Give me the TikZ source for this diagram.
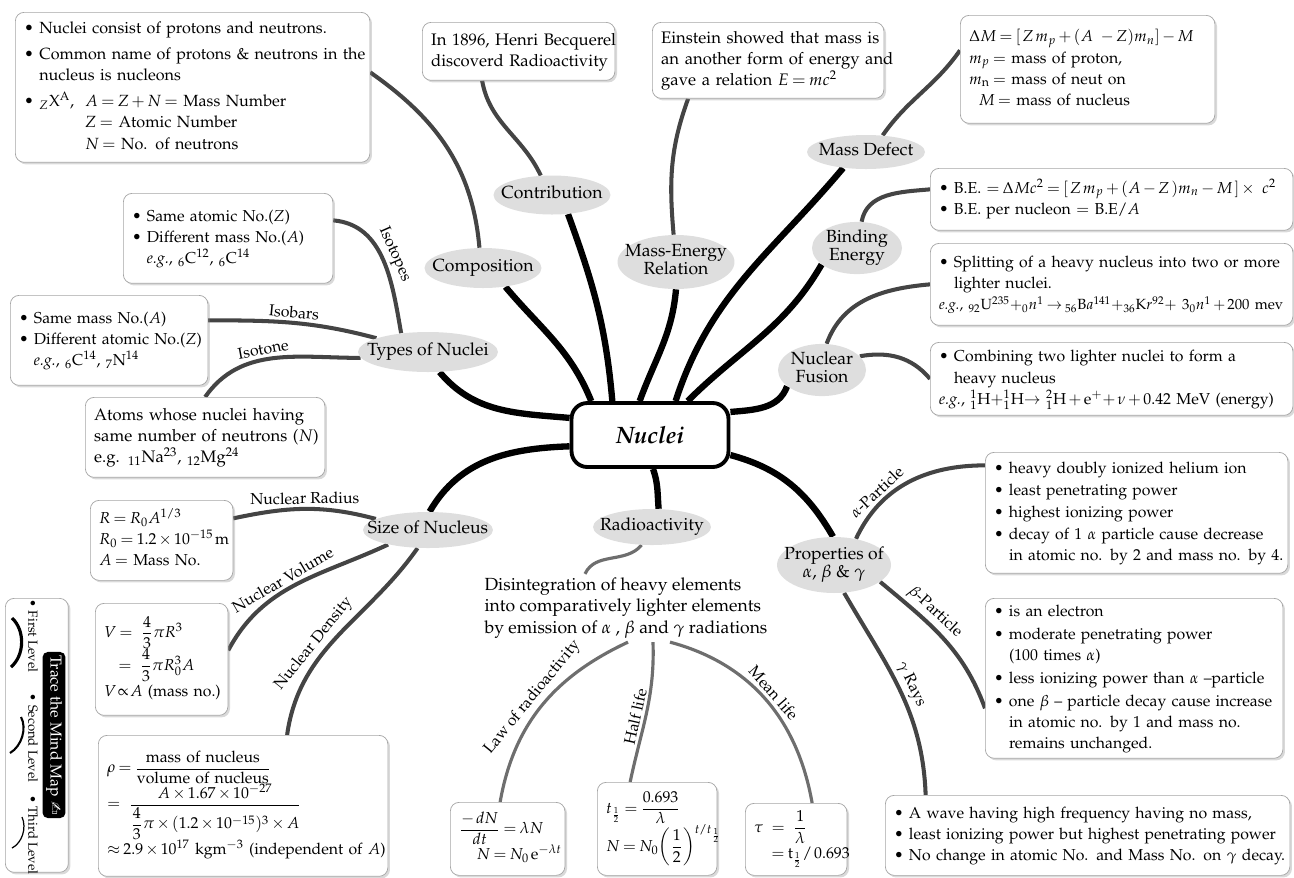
\documentclass[tikz,border=0pt]{standalone}
\usepackage[T1]{fontenc}
\usepackage{mathpazo}
\usepackage{amsmath}
\usepackage{pifont}
\usetikzlibrary{shapes.geometric,shadows,backgrounds}

\definecolor{TopicGray}{RGB}{222,222,222}
\definecolor{TwigGray}{RGB}{68,68,68}
\definecolor{SprigGray}{RGB}{110,110,110}
\definecolor{FrameGray}{RGB}{165,165,165}

\newcommand{\tpc}[1]{\makebox[0pt]{\begin{tabular}{@{}c@{}}#1\end{tabular}}}
\newcommand{\rows}[1]{\begin{tabular}{@{}l@{}}#1\end{tabular}}
\newcommand{\bul}{\textbullet\ }
\newcommand{\ind}{\phantom{\textbullet\ }}
\thinmuskip=2mu
\medmuskip=2.5mu plus 1mu
\thickmuskip=3.5mu plus 2mu

\begin{document}
\begin{tikzpicture}[x=0.02cm, y=-0.02cm, font=\fontsize{9}{12}\selectfont,
  topic/.style={ellipse, fill=TopicGray, inner sep=0pt, font=\fontsize{10}{10.5}\selectfont},
  leaf/.style={draw=FrameGray, fill=white, rounded corners=5pt, anchor=north west, align=left,
    inner xsep=5pt, inner ysep=2pt, drop shadow={shadow xshift=1.2pt, shadow yshift=-1.2pt, opacity=0.3}},
  trunk/.style={line width=3.6pt},
  twig/.style={draw=TwigGray, line width=2.3pt},
  sprig/.style={draw=SprigGray, line width=1.8pt},
  tag/.style={sloped, above, inner sep=1.5pt}]
\useasboundingbox (0,0) rectangle (1294,877);

% centre
\node[draw, line width=2.2pt, rounded corners=9pt, fill=white, minimum width=3.14cm, minimum height=1.28cm] (nuc) at (650,435) {\fontsize{13.5}{16}\selectfont\bfseries\itshape Nuclei};

% first level
\node[topic, minimum width=2.34cm, minimum height=0.78cm] (contr) at (552,195) {\tpc{Contribution}};
\node[topic, minimum width=2.34cm, minimum height=0.8cm] (comp) at (483,268) {\tpc{Composition}};
\node[topic, minimum width=2.34cm, minimum height=1.08cm] (mer) at (676,262) {\tpc{Mass-Energy\\Relation}};
\node[topic, minimum width=2.36cm, minimum height=0.68cm] (mdef) at (866,152) {\tpc{Mass Defect}};
\node[topic, minimum width=1.8cm, minimum height=1.04cm] (bind) at (857,248) {\tpc{Binding\\Energy}};
\node[topic, minimum width=1.76cm, minimum height=1.0cm] (fus) at (822,370) {\tpc{Nuclear\\Fusion}};
\node[topic, minimum width=2.8cm, minimum height=0.8cm] (types) at (428,352) {\tpc{Types of Nuclei}};
\node[topic, minimum width=2.6cm, minimum height=0.72cm] (size) at (428,530) {\tpc{Size of Nucleus}};
\node[topic, minimum width=2.36cm, minimum height=0.72cm] (radio) at (652,527) {\tpc{Radioactivity}};
\node[topic, minimum width=2.28cm, minimum height=1.12cm] (prop) at (834,565) {\tpc{Properties of\\$\alpha$, $\beta$ \& $\gamma$}};

% leaves
\node[leaf, text width=6.74cm, minimum height=3cm, font=\fontsize{9.2}{12.4}\selectfont] (bcomp) at (15,12) {\rows{%
\bul Nuclei consist of protons and neutrons.\\[2pt]
\bul Common name of protons \& neutrons in the\\
\ind nucleus is nucleons\\[2pt]
\bul ${}_{Z}\mathrm{X}^{\mathrm{A}}$,\ \ $A = Z + N =$ Mass Number\\
\phantom{\bul ${}_{Z}\mathrm{X}^{\mathrm{A}}$,\ \ }$Z =$ Atomic Number\\
\phantom{\bul ${}_{Z}\mathrm{X}^{\mathrm{A}}$,\ \ }$N =$ No. of neutrons}};
\node[leaf, text width=3.5cm, minimum height=1.16cm, font=\fontsize{9.5}{12}\selectfont] (bcontr) at (422,22) {\rows{In 1896, Henri Becquerel\\discoverd Radioactivity}};
\node[leaf, text width=4.28cm, minimum height=1.52cm, font=\fontsize{9.5}{12}\selectfont] (bmer) at (652,22) {\rows{Einstein showed that mass is\\an another form of energy and\\gave a relation $E = mc^2$}};
\node[leaf, text width=4.74cm, minimum height=2.16cm] (bdef) at (960,15) {\rows{%
$\Delta M = [\,Z\,m_p + (A\ -Z)m_n] - M$\\
$m_p =$ mass of proton,\\
$m_{\mathrm{n}} =$ mass of neut on\\
\hspace*{0.6em}$M =$ mass of nucleus}};
\node[leaf, text width=6.9cm, minimum height=1.24cm] (bbind) at (930,168) {\rows{%
\bul B.E. $= \Delta Mc^2 = [\,Z\,m_p + (A - Z\,)m_n - M\,] \times\ c^2$\\
\bul B.E. per nucleon $=$ B.E/$A$}};
\node[leaf, text width=6.9cm, minimum height=1.64cm] (bfis) at (930,243) {\rows{%
\bul Splitting of a heavy nucleus into two or more\\
\ind lighter nuclei.\\
\fontsize{8.4}{11}\selectfont\textit{e.g.}, ${}_{92}\mathrm{U}^{235}{+}{}_0n^1 \to {}_{56}\mathrm{B}a^{141}{+}{}_{36}\mathrm{K}r^{92}{+}\ 3{}_0n^1 + 200$ mev}};
\node[leaf, text width=6.9cm, minimum height=1.46cm] (bfus) at (930,342) {\rows{%
\bul Combining two lighter nuclei to form a\\
\ind heavy nucleus\\
\textit{e.g.}, ${}^1_1\mathrm{H}{+}{}^1_1\mathrm{H}{\to}\ {}^2_1\mathrm{H} + \mathrm{e}^+{+}\,\nu + 0.42$ MeV (energy)}};
\node[leaf, text width=5.7cm, minimum height=2.42cm] (balpha) at (985,452) {\rows{%
\bul heavy doubly ionized helium ion\\[1pt]
\bul least penetrating power\\
\bul highest ionizing power\\[1pt]
\bul decay of 1 $\alpha$ particle cause decrease\\
\ind in atomic no. by 2 and mass no. by 4.}};
\node[leaf, text width=5.6cm, minimum height=2.84cm] (bbeta) at (985,598) {\rows{%
\bul is an electron\\[1pt]
\bul moderate penetrating power\\
\ind (100 times $\alpha$)\\[1pt]
\bul less ionizing power than $\alpha$ --particle\\[1pt]
\bul one $\beta$ -- particle decay cause increase\\
\ind in atomic no. by 1 and mass no.\\
\ind remains unchanged.}};
\node[leaf, text width=7.74cm, minimum height=1.6cm] (bgam) at (885,795) {\rows{%
\bul A wave having high frequency having no mass,\\
\bul least ionizing power but highest penetrating power\\
\bul No change in atomic No. and Mass No. on $\gamma$ decay.}};
\node[leaf, text width=3.84cm, minimum height=1.8cm] (bisot) at (123,193) {\rows{%
\bul Same atomic No.($Z$)\\
\bul Different mass No.($A$)\\
\ind\textit{e.g.}, ${}_6\mathrm{C}^{12}$, ${}_6\mathrm{C}^{14}$}};
\node[leaf, text width=3.6cm, minimum height=1.8cm] (bisob) at (10,295) {\rows{%
\bul Same mass No.($A$)\\
\bul Different atomic No.($Z$)\\
\ind\textit{e.g.}, ${}_6\mathrm{C}^{14}$, ${}_7\mathrm{N}^{14}$}};
\node[leaf, text width=4.44cm, minimum height=1.6cm, font=\fontsize{9.5}{12}\selectfont] (bisoto) at (85,397) {\rows{%
Atoms whose nuclei having\\
same number of neutrons ($N$)\\
e.g. ${}_{11}$Na$^{23}$, ${}_{12}$Mg$^{24}$}};
\node[leaf, text width=2.5cm, minimum height=1.6cm] (brad) at (90,500) {\rows{%
$R = R_0A^{1/3}$\\
$R_0 = 1.2\times10^{-15}\,$m\\
$A =$ Mass No.}};
\node[leaf, text width=2.3cm, minimum height=2.24cm] (bvol) at (95,603) {\rows{%
$V =\ \dfrac43\pi R^3$\\
\hspace*{0.9em}$=\ \dfrac43\pi R_0^3A$\\
$V\!\propto\! A$ (mass no.)}};
\node[leaf, text width=5.44cm, minimum height=2.82cm] (bden) at (98,735) {\rows{%
$\rho = \dfrac{\text{mass of nucleus}}{\text{volume of nucleus}}$\\
$= \ \dfrac{A\times 1.67\times10^{-27}}{\dfrac{4}{3}\pi\times(1.2\times10^{-15})^3\times A}$\\
$\approx 2.9\times10^{17}$ kgm$^{-3}$ (independent of $A$)}};
\node[align=left, font=\fontsize{10}{12.2}\selectfont, inner sep=2pt] (dis) at (626,608) {%
Disintegration of heavy elements\\
into comparatively lighter elements\\
by emission of $\alpha$ , $\beta$ and $\gamma$ radiations};
\node[leaf, text width=1.94cm, minimum height=1.46cm] (blaw) at (450,802) {\rows{%
$\dfrac{-\,dN}{dt} = \lambda N$\\
\hspace*{1.1em}$N = N_0\,\mathrm{e}^{-\lambda t}$}};
\node[leaf, text width=2.04cm, minimum height=1.86cm] (bhalf) at (597,782) {\rows{%
$t_{\frac12} = \dfrac{0.693}{\lambda}$\\
$N = N_0\!\left(\dfrac12\right)^{t/t_{\frac12}}$}};
\node[leaf, text width=1.68cm, minimum height=1.44cm] (bmean) at (745,803) {\rows{%
$\tau\ =\ \dfrac{1}{\lambda}$\\
\hspace*{1.1em}$= \mathrm{t}_{\frac12}/\,0.693$}};

% legend
\node[leaf, minimum width=1.26cm, minimum height=5.48cm] (legend) at (5,598) {};
\node[fill=black, text=white, rounded corners=3pt, rotate=-90, inner sep=2pt, font=\fontsize{9}{10}\selectfont] (trace) at (54,735) {Trace the Mind Map \ding{45}};
\node[rotate=-90, font=\fontsize{7.5}{9}\selectfont] (lvone) at (33,636) {\bul First Level};
\node[rotate=-90, font=\fontsize{7.5}{9}\selectfont] (lvtwo) at (33,738) {\bul Second Level};
\node[rotate=-90, font=\fontsize{7.5}{9}\selectfont] (lvthree) at (33,835) {\bul Third Level};
\draw[line width=1.8pt] (12,618) .. controls (25,630) and (25,655) .. (11,667);
\draw[line width=1.2pt] (21,717) .. controls (27,728) and (22,746) .. (10,753);
\draw[line width=0.7pt] (22,817) .. controls (27,828) and (22,843) .. (12,848);

\begin{scope}[on background layer]
% trunks
\draw[trunk] (nuc.150) to[out=112,in=-50] (comp.-40);
\draw[trunk] (nuc.138) to[out=95,in=-70] (contr.-50);
\draw[trunk] (nuc.107) to[out=70,in=-95] (mer.-90);
\draw[trunk] (nuc.53) to[out=72,in=-130] (mdef.-145);
\draw[trunk] (nuc.42) to[out=45,in=-120] (bind.-155);
\draw[trunk] (nuc.16) to[out=5,in=-110] (fus.-155);
\draw[trunk] (nuc.168) to[out=175,in=-50] (types.-60);
\draw[trunk] (nuc.188) to[out=182,in=60] (size.85);
\draw[trunk] (nuc.-85) to[out=-70,in=95] (radio.70);
\draw[trunk] (nuc.-14) to[out=-15,in=120] (prop.92);
% twigs
\draw[twig] (comp.100) to[out=95,in=-35] ([yshift=0.3cm]bcomp.east);
\draw[twig] (contr.120) to[out=115,in=-80] ([xshift=-0.73cm]bcontr.south);
\draw[twig] (mer.95) to[out=95,in=-110] ([xshift=-1.6cm]bmer.south);
\draw[twig] (mdef.45) to[out=55,in=-125] ([yshift=0.38cm]bdef.west);
\draw[twig] (bind.80) to[out=80,in=185] ([yshift=0.2cm]bbind.west);
\draw[twig] (fus.80) to[out=70,in=185] (bfis.west);
\draw[twig] (fus.20) to[out=10,in=130] (bfus.west);
\draw[twig] (prop.50) to[out=65,in=180] node[tag, pos=0.3] {$\alpha$-Particle} ([yshift=0.95cm]balpha.west);
\draw[twig] (prop.-20) to[out=-40,in=110] node[tag, pos=0.35] {$\beta$-Particle} ([yshift=-0.6cm]bbeta.west);
\draw[twig] (prop.-70) to[out=-60,in=92] node[tag, pos=0.5] {$\gamma$ Rays} ([xshift=-3.24cm]bgam.north);
\draw[twig] ([yshift=0.36cm]bisot.east) to[out=-5,in=100] node[tag, pos=0.5] {Isotopes} (types.145);
\draw[twig] ([yshift=0.4cm]bisob.east) to[out=0,in=165] node[tag, pos=0.5] {Isobars} (types.165);
\draw[twig] (bisoto.north) to[out=55,in=180] node[tag, pos=0.45] {Isotone} (types.185);
\draw[twig] ([yshift=0.44cm]brad.east) to[out=12,in=165] node[tag, pos=0.5] {Nuclear Radius} (size.168);
\draw[twig] ([yshift=0.18cm]bvol.east) to[out=62,in=205] node[tag, pos=0.45] {Nuclear Volume} (size.200);
\draw[twig] ([xshift=0.88cm]bden.north) to[out=82,in=235] node[tag, pos=0.4] {Nuclear Density} (size.-120);
% sprigs
\draw[sprig] (radio.-120) to[out=-130,in=65] ([xshift=-0.82cm]dis.north);
\draw[sprig] ([xshift=-0.15cm]blaw.north) to[out=80,in=205] node[tag, pos=0.5] {Law of radioactivity} ([xshift=0.04cm]dis.south);
\draw[sprig] ([xshift=-0.54cm]bhalf.north) to[out=78,in=-88] node[tag, pos=0.45] {Half life} ([xshift=0.54cm]dis.south);
\draw[sprig] ([xshift=0.88cm]dis.south) to[out=-15,in=100] node[tag, pos=0.5] {Mean life} ([xshift=0.32cm]bmean.north);
\end{scope}
\end{tikzpicture}
\end{document}
